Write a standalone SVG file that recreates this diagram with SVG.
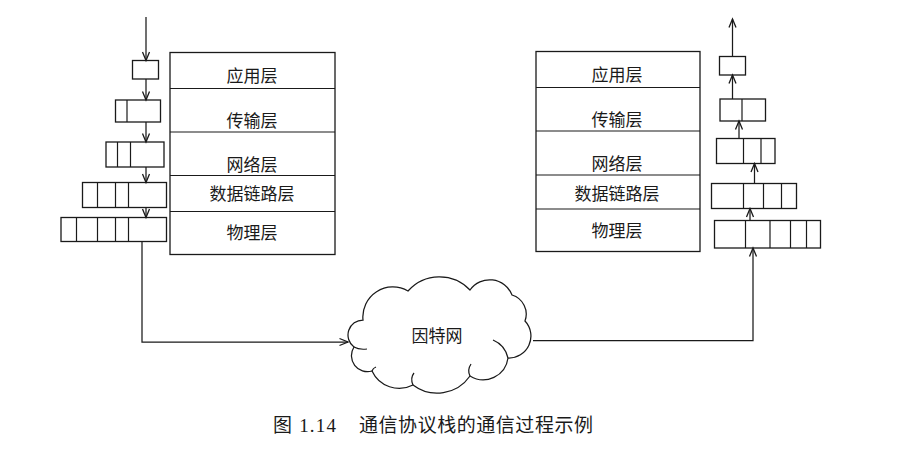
<svg xmlns="http://www.w3.org/2000/svg" width="911" height="453" viewBox="0 0 911 453">
  <style>
    .box { fill: none; stroke: #1a1a1a; stroke-width: 1.3; }
    .div { stroke: #1a1a1a; stroke-width: 1.2; }
    .wire { fill: none; stroke: #1a1a1a; stroke-width: 1.25; }
    .lbl { font-family: "Noto Sans CJK SC", "Noto Sans", sans-serif; font-size: 17px; fill: #1a1a1a; text-anchor: middle; dominant-baseline: central; }
    .cap { font-family: "Liberation Serif", "Noto Sans CJK SC", serif; font-size: 19px; fill: #1a1a1a; dominant-baseline: central; }
  </style>
  <defs>
    <marker id="arr" viewBox="-10 -5 12 10" refX="0" refY="0" markerWidth="12" markerHeight="10" orient="auto" markerUnits="userSpaceOnUse">
      <path d="M-8.5,-3.5 L0,0 L-8.5,3.5" fill="none" stroke="#1a1a1a" stroke-width="1.3"/>
    </marker>
  </defs>
  <rect width="911" height="453" fill="#fff"/>

  <!-- sender protocol stack -->
  <g id="stack-left">
    <rect class="box" x="170" y="52.5" width="165" height="202"/>
    <line class="div" x1="170" y1="88.5" x2="335" y2="88.5"/>
    <line class="div" x1="170" y1="132" x2="335" y2="132"/>
    <line class="div" x1="170" y1="175.5" x2="335" y2="175.5"/>
    <line class="div" x1="170" y1="211.5" x2="335" y2="211.5"/>
    <text class="lbl" x="252" y="74">应用层</text>
    <text class="lbl" x="252" y="119">传输层</text>
    <text class="lbl" x="252" y="163">网络层</text>
    <text class="lbl" x="252" y="192">数据链路层</text>
    <text class="lbl" x="252" y="231">物理层</text>
  </g>

  <!-- receiver protocol stack -->
  <g id="stack-right">
    <rect class="box" x="536" y="51.5" width="164" height="200"/>
    <line class="div" x1="536" y1="87.5" x2="700" y2="87.5"/>
    <line class="div" x1="536" y1="131" x2="700" y2="131"/>
    <line class="div" x1="536" y1="175" x2="700" y2="175"/>
    <line class="div" x1="536" y1="209" x2="700" y2="209"/>
    <text class="lbl" x="617" y="73">应用层</text>
    <text class="lbl" x="617" y="118">传输层</text>
    <text class="lbl" x="617" y="162">网络层</text>
    <text class="lbl" x="617" y="192">数据链路层</text>
    <text class="lbl" x="617" y="229">物理层</text>
  </g>

  <!-- sender packets: headers added at each layer -->
  <g id="tx-app">
    <rect class="box" x="132.5" y="60.5" width="26" height="18.5"/>
  </g>
  <g id="tx-transport">
    <rect class="box" x="115.5" y="100" width="45" height="22"/>
    <line class="div" x1="127" y1="100" x2="127" y2="122"/>
  </g>
  <g id="tx-network">
    <rect class="box" x="106" y="142" width="58" height="25"/>
    <line class="div" x1="117.5" y1="142" x2="117.5" y2="167"/>
    <line class="div" x1="130.5" y1="142" x2="130.5" y2="167"/>
  </g>
  <g id="tx-link">
    <rect class="box" x="82.5" y="182.5" width="84" height="25"/>
    <line class="div" x1="97.5" y1="182.5" x2="97.5" y2="207.5"/>
    <line class="div" x1="115.5" y1="182.5" x2="115.5" y2="207.5"/>
    <line class="div" x1="128.5" y1="182.5" x2="128.5" y2="207.5"/>
  </g>
  <g id="tx-phys">
    <rect class="box" x="61" y="217.5" width="105.5" height="24"/>
    <line class="div" x1="76.5" y1="217.5" x2="76.5" y2="241.5"/>
    <line class="div" x1="97.5" y1="217.5" x2="97.5" y2="241.5"/>
    <line class="div" x1="115.5" y1="217.5" x2="115.5" y2="241.5"/>
    <line class="div" x1="128.5" y1="217.5" x2="128.5" y2="241.5"/>
  </g>

  <!-- receiver packets: headers stripped at each layer -->
  <g id="rx-app">
    <rect class="box" x="719.5" y="56.5" width="26" height="18.5"/>
  </g>
  <g id="rx-transport">
    <rect class="box" x="720" y="99" width="45.5" height="22"/>
    <line class="div" x1="742" y1="99" x2="742" y2="121"/>
  </g>
  <g id="rx-network">
    <rect class="box" x="716.5" y="138.5" width="58.5" height="25"/>
    <line class="div" x1="743.5" y1="138.5" x2="743.5" y2="163.5"/>
    <line class="div" x1="761" y1="138.5" x2="761" y2="163.5"/>
  </g>
  <g id="rx-link">
    <rect class="box" x="711.5" y="183.5" width="85" height="25"/>
    <line class="div" x1="743.5" y1="183.5" x2="743.5" y2="208.5"/>
    <line class="div" x1="763.5" y1="183.5" x2="763.5" y2="208.5"/>
    <line class="div" x1="781.5" y1="183.5" x2="781.5" y2="208.5"/>
  </g>
  <g id="rx-phys">
    <rect class="box" x="714.5" y="220.5" width="106" height="27.5"/>
    <line class="div" x1="745.5" y1="220.5" x2="745.5" y2="248"/>
    <line class="div" x1="770" y1="220.5" x2="770" y2="248"/>
    <line class="div" x1="790.5" y1="220.5" x2="790.5" y2="248"/>
    <line class="div" x1="806.5" y1="220.5" x2="806.5" y2="248"/>
  </g>

  <!-- internet cloud -->
  <g id="internet">
    <path class="wire" fill="#fff" d="M354,347 A15,15 0 0 1 363,320 A30,30 0 0 1 408,291 A42,42 0 0 1 470,290 A24,24 0 0 1 512,295 A20,20 0 0 1 525,321 A22,22 0 0 1 508,358 A25,25 0 0 1 470,376 A40,40 0 0 1 413,385 A30,30 0 0 1 372,371 A16,16 0 0 1 354,347 Z"/>
    <path class="wire" d="M354,347 Q359,350 367,349 M372,371 Q373,368 376,367 M413,385 Q410,378 414,373 M470,376 Q467,370 471,364 M508,358 Q505,345 493,340"/>
    <text class="lbl" x="437" y="334">因特网</text>
  </g>

  <!-- data flow connectors -->
  <g id="connectors">
    <line class="wire" x1="146" y1="17" x2="146" y2="60.5" marker-end="url(#arr)"/>
    <line class="wire" x1="146" y1="79" x2="146" y2="100" marker-end="url(#arr)"/>
    <line class="wire" x1="146" y1="122" x2="146" y2="142" marker-end="url(#arr)"/>
    <line class="wire" x1="146" y1="167" x2="146" y2="182.5" marker-end="url(#arr)"/>
    <line class="wire" x1="146" y1="207.5" x2="146" y2="217.5" marker-end="url(#arr)"/>
    <polyline class="wire" points="142,241.5 142,342 348,342" marker-end="url(#arr)"/>
    <polyline class="wire" points="533,340.5 753,340.5 753,248" marker-end="url(#arr)"/>
    <line class="wire" x1="750" y1="220.5" x2="750" y2="208.5" marker-end="url(#arr)"/>
    <line class="wire" x1="754.5" y1="183.5" x2="754.5" y2="163.5" marker-end="url(#arr)"/>
    <line class="wire" x1="739" y1="138.5" x2="739" y2="121" marker-end="url(#arr)"/>
    <line class="wire" x1="732.5" y1="99" x2="732.5" y2="75" marker-end="url(#arr)"/>
    <line class="wire" x1="732.5" y1="56.5" x2="732.5" y2="19" marker-end="url(#arr)"/>
  </g>

  <!-- caption -->
  <g id="caption">
    <text class="cap" x="273" y="425" textLength="63" lengthAdjust="spacing">图 1.14</text>
    <text class="cap" x="359" y="425" textLength="234" lengthAdjust="spacing">通信协议栈的通信过程示例</text>
  </g>
</svg>
